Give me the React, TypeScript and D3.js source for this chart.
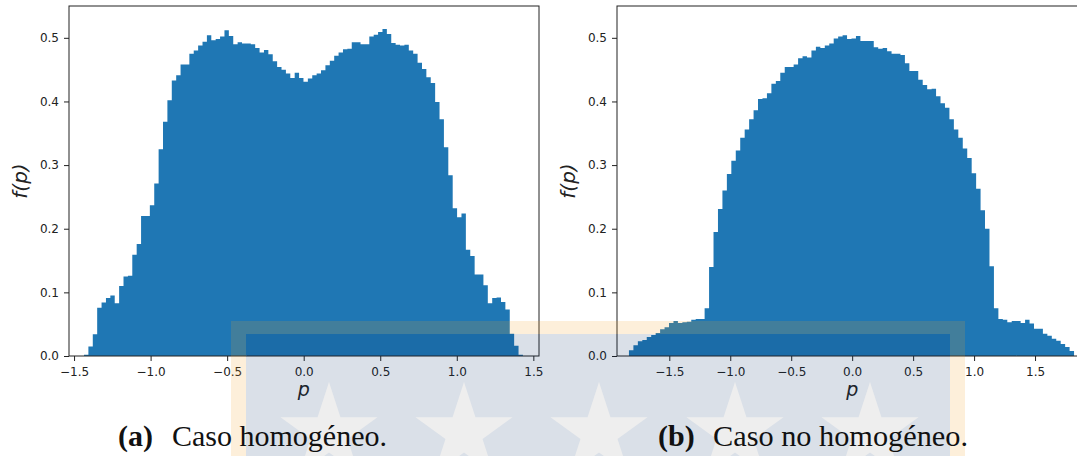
import { useEffect, useRef } from 'react'
import * as d3 from 'd3'

// f(p) histogram heights, 100 bins each
const homogeneo = [
  0.002, 0.015, 0.034, 0.076, 0.084, 0.091, 0.095, 0.083, 0.11, 0.125,
  0.126, 0.159, 0.176, 0.22, 0.22, 0.237, 0.271, 0.325, 0.368, 0.402,
  0.433, 0.441, 0.458, 0.458, 0.475, 0.48, 0.488, 0.494, 0.504, 0.496,
  0.498, 0.502, 0.512, 0.503, 0.49, 0.493, 0.491, 0.491, 0.49, 0.484,
  0.477, 0.481, 0.474, 0.463, 0.454, 0.45, 0.444, 0.437, 0.445, 0.437,
  0.431, 0.436, 0.441, 0.444, 0.449, 0.457, 0.464, 0.472, 0.477, 0.482,
  0.483, 0.493, 0.493, 0.49, 0.49, 0.502, 0.505, 0.509, 0.514, 0.506,
  0.492, 0.489, 0.488, 0.489, 0.48, 0.475, 0.461, 0.451, 0.438, 0.429,
  0.399, 0.372, 0.328, 0.284, 0.232, 0.218, 0.224, 0.167, 0.157, 0.128,
  0.128, 0.111, 0.083, 0.091, 0.092, 0.085, 0.073, 0.035, 0.016, 0.002,
]

const noHomogeneo = [
  0.009, 0.017, 0.023, 0.025, 0.03, 0.033, 0.036, 0.042, 0.045, 0.052,
  0.055, 0.052, 0.053, 0.054, 0.057, 0.058, 0.058, 0.075, 0.14, 0.195,
  0.231, 0.26, 0.286, 0.307, 0.323, 0.343, 0.356, 0.372, 0.386, 0.404,
  0.405, 0.413, 0.428, 0.432, 0.445, 0.454, 0.454, 0.458, 0.468, 0.471,
  0.469, 0.48, 0.486, 0.484, 0.488, 0.491, 0.499, 0.502, 0.504, 0.498,
  0.499, 0.503, 0.495, 0.495, 0.495, 0.485, 0.483, 0.484, 0.479, 0.475,
  0.475, 0.473, 0.46, 0.448, 0.448, 0.434, 0.426, 0.419, 0.42, 0.408,
  0.397, 0.39, 0.372, 0.356, 0.343, 0.326, 0.311, 0.287, 0.263, 0.229,
  0.2, 0.141, 0.075, 0.058, 0.057, 0.053, 0.055, 0.055, 0.052, 0.057,
  0.051, 0.043, 0.043, 0.035, 0.032, 0.027, 0.024, 0.019, 0.014, 0.008,
]

// first and last bin edge of each histogram
const homogeneoRange = [-1.435, 1.432]
const noHomogeneoRange = [-1.831, 1.82]

const xTicks = [-1.5, -1.0, -0.5, 0.0, 0.5, 1.0, 1.5]
const yTicks = [0.0, 0.1, 0.2, 0.3, 0.4, 0.5]
const captionTags = ['(a)', '(b)']
const captionTexts = ['Caso homogéneo.', 'Caso no homogéneo.']

function App() {
  const ref = useRef(null)

  useEffect(() => {
    const width = 1077,
      height = 456,
      top = 6,
      bottom = 356,
      ink = '#222'

    const svg = d3.select(ref.current)
    svg.selectAll('*').remove()
    svg.attr('width', width).attr('height', height)

    const y = d3.scaleLinear().domain([0, 0.55]).range([bottom, top])
    const fmt = d3.format('.1f')

    const panels = [
      { values: homogeneo, edges: homogeneoRange, domain: [-1.533, 1.537], left: 69, right: 539, capX: 118, restX: 172, restW: 215 },
      { values: noHomogeneo, edges: noHomogeneoRange, domain: [-1.929, 1.918], left: 617, right: 1086, capX: 658, restX: 713, restW: 255 },
    ]

    panels.forEach((p) => {
      const x = d3.scaleLinear().domain(p.domain).range([p.left, p.right])
      const n = p.values.length
      const step = (p.edges[1] - p.edges[0]) / n
      const g = svg.append('g')

      // all bars in one path so neighbouring bars leave no seams
      const bars = d3.path()
      p.values.forEach((d, i) => {
        const x0 = x(p.edges[0] + i * step)
        const x1 = x(p.edges[0] + (i + 1) * step)
        bars.rect(x0, y(d), x1 - x0, bottom - y(d))
      })
      g.append('path').attr('d', bars.toString()).attr('fill', '#1f77b4')

      // spines
      g.append('rect')
        .attr('x', p.left)
        .attr('y', top)
        .attr('width', p.right - p.left)
        .attr('height', bottom - top)
        .attr('fill', 'none')
        .attr('stroke', ink)
        .attr('stroke-width', 1)

      const xAxis = g
        .append('g')
        .attr('transform', 'translate(0,' + bottom + ')')
        .call(d3.axisBottom(x).tickValues(xTicks).tickSize(5).tickPadding(6).tickFormat(fmt))
      const yAxis = g
        .append('g')
        .attr('transform', 'translate(' + p.left + ',0)')
        .call(d3.axisLeft(y).tickValues(yTicks).tickSize(5).tickPadding(5).tickFormat(fmt))

      ;[xAxis, yAxis].forEach((a) => {
        a.select('.domain').remove()
        a.selectAll('line').attr('stroke', ink)
        a.selectAll('text')
          .attr('fill', ink)
          .style('font-family', 'DejaVu Sans')
          .style('font-size', '12px')
      })

      g.append('text')
        .attr('x', x(0))
        .attr('y', 396)
        .attr('text-anchor', 'middle')
        .style('font-family', 'DejaVu Sans')
        .style('font-style', 'italic')
        .style('font-size', '19px')
        .attr('fill', ink)
        .text('p')

      g.append('text')
        .attr('transform', 'translate(' + (p.left - 42) + ',' + (top + bottom) / 2 + ') rotate(-90)')
        .attr('text-anchor', 'middle')
        .style('font-family', 'DejaVu Sans')
        .style('font-style', 'italic')
        .style('font-size', '20px')
        .attr('fill', ink)
        .text('f(p)')
    })

    // watermark over the lower middle of the figure
    const wm = svg.append('g')
    wm.append('path')
      .attr('d', 'M231,321H965V470H231Z M246,334V470H950V334Z')
      .attr('fill-rule', 'evenodd')
      .attr('fill', 'rgb(244,163,37)')
      .attr('fill-opacity', 0.17)
    wm.append('rect')
      .attr('x', 246)
      .attr('y', 334)
      .attr('width', 704)
      .attr('height', 130)
      .attr('fill', 'rgb(5,44,103)')
      .attr('fill-opacity', 0.15)

    const star = (cx, cy, R) => {
      const pts = d3.range(10).map((i) => {
        const r = i % 2 === 0 ? R : R * 0.382
        const a = -Math.PI / 2 + (i * Math.PI) / 5
        return [cx + r * Math.cos(a), cy + r * Math.sin(a)]
      })
      return 'M' + pts.map((q) => q.join(',')).join('L') + 'Z'
    }
    ;[329, 464, 599, 735, 870].forEach((cx) => {
      wm.append('path').attr('d', star(cx, 433, 51)).attr('fill', '#eeeeee')
    })

    // captions
    panels.forEach((p, k) => {
      svg.append('text')
        .attr('x', p.capX)
        .attr('y', 446)
        .style('font-family', 'Liberation Serif')
        .style('font-size', '30px')
        .style('font-weight', 'bold')
        .attr('fill', '#111')
        .text(captionTags[k])
      svg.append('text')
        .attr('x', p.restX)
        .attr('y', 446)
        .attr('textLength', p.restW)
        .attr('lengthAdjust', 'spacingAndGlyphs')
        .style('font-family', 'Liberation Serif')
        .style('font-size', '30px')
        .attr('fill', '#111')
        .text(captionTexts[k])
    })
  })

  return <svg ref={ref} style={{ position: 'absolute', left: 0, top: 0 }}></svg>
}

export default App
